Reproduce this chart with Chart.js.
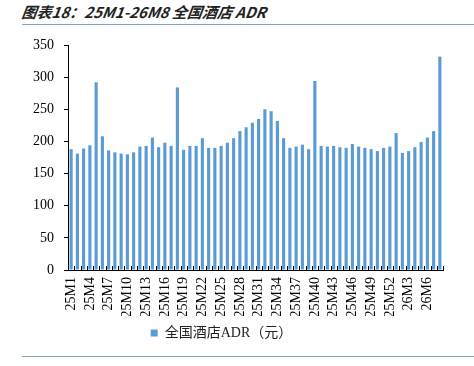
<!DOCTYPE html>
<html><head><meta charset="utf-8">
<script src="https://cdn.jsdelivr.net/npm/chart.js@4/dist/chart.umd.min.js"></script>
<style>
html,body{margin:0;padding:0;background:#fff;width:474px;height:366px;overflow:hidden;position:relative}
#title{position:absolute;left:22px;top:1px;font-family:"Noto Sans CJK SC",sans-serif;font-style:italic;font-weight:bold;font-size:15px;color:#222;white-space:nowrap;transform:skewX(-8deg)}
.rule{position:absolute;left:22px;right:0;height:1px;background:#7fa6bd}
#wrap{position:absolute;left:0;top:0;width:474px;height:366px}
</style></head>
<body>
<div id="title">图表18：25M1-26M8 全国酒店 ADR</div>
<div class="rule" style="top:24px"></div>
<div class="rule" style="top:356px"></div>
<div id="wrap"><canvas id="c" width="474" height="366"></canvas></div>
<script>
const categories = [];
for (let i = 1; i <= 52; i++) categories.push('25M' + i);
for (let i = 1; i <= 8; i++) categories.push('26M' + i);
const seriesName = '全国酒店ADR（元）';
const adrValues = [
 188,181,189,194,292,208,186,183,181,180,
 183,192,193,206,191,198,193,284,187,193,
 193,205,190,190,193,198,205,216,222,229,
 235,250,247,232,205,190,192,195,188,294,
 193,192,193,191,190,196,192,190,188,185,
 190,192,213,182,185,191,199,206,216,332
];
const yTicks = [0,50,100,150,200,250,300,350];
const labelEvery = 3;

const innerTicks = {
  id:'innerTicks',
  afterDatasetsDraw(chart){
    const x = chart.scales.x, y = chart.scales.y;
    const ctx = chart.ctx;
    const base = y.getPixelForValue(0);
    ctx.save();
    ctx.strokeStyle = '#000';
    ctx.lineWidth = 1;
    ctx.beginPath();
    for (let i = 0; i <= categories.length; i++) {
      const px = Math.round(x.getPixelForValue(i - 0.5)) + 0.5;
      ctx.moveTo(px, base);
      ctx.lineTo(px, base - 4);
    }
    ctx.stroke();
    ctx.restore();
  }
};

new Chart(document.getElementById('c'), {
  type:'bar',
  data:{labels:categories, datasets:[{label:seriesName, data:adrValues, backgroundColor:'#5b9bd5', borderWidth:0, barPercentage:0.5, categoryPercentage:1}]},
  options:{
    responsive:false, animation:false, devicePixelRatio:1,
    layout:{padding:{left:0,right:31,top:45,bottom:16}},
    plugins:{
      legend:{position:'bottom', labels:{boxWidth:7, boxHeight:7, padding:10, color:'#222', font:{family:'"Liberation Serif","Noto Sans CJK SC",serif', size:14}}},
      tooltip:{enabled:false}
    },
    scales:{
      x:{
        grid:{display:false, drawTicks:false},
        border:{display:true, color:'#000', width:1},
        ticks:{autoSkip:false, maxRotation:90, minRotation:90, padding:7, color:'#000',
          font:{family:'"Liberation Serif",serif', size:14},
          callback:(v,i)=> i % labelEvery === 0 ? categories[i] : ''},
        afterFit:(s)=>{s.height = 46;}
      },
      y:{
        min:0, max:350,
        afterBuildTicks:(s)=>{s.ticks = yTicks.map(v=>({value:v}));},
        grid:{display:true, drawOnChartArea:false, drawTicks:true, tickLength:4, color:'#000'},
        border:{display:true, color:'#000', width:1},
        ticks:{padding:10, color:'#000', font:{family:'"Liberation Serif",serif', size:14}},
        afterFit:(s)=>{s.width = 68;}
      }
    }
  },
  plugins:[innerTicks]
});
</script>
</body></html>
